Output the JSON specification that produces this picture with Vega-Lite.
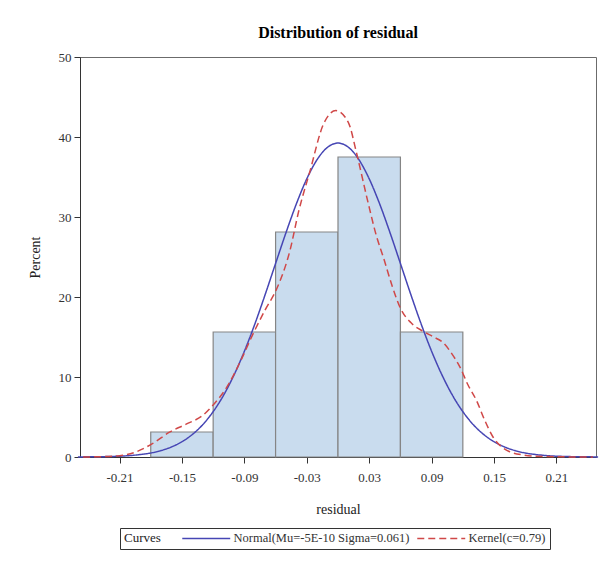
{
  "$schema": "https://vega.github.io/schema/vega-lite/v6.json",
  "width": 516,
  "height": 400,
  "autosize": {"type": "none"},
  "padding": {"left": 80, "top": 57, "right": 20, "bottom": 105},
  "background": "white",
  "title": {
    "text": "Distribution of residual",
    "font": "Liberation Serif",
    "fontSize": 16,
    "fontWeight": "bold",
    "color": "#000000",
    "anchor": "middle",
    "offset": 10
  },
  "datasets": {
    "bins": [
      {"start": -0.18, "end": -0.12, "pct": 3.125},
      {"start": -0.12, "end": -0.06, "pct": 15.625},
      {"start": -0.06, "end": 0.0, "pct": 28.125},
      {"start": 0.0, "end": 0.06, "pct": 37.5},
      {"start": 0.06, "end": 0.12, "pct": 15.625}
    ],
    "curves": [
      {"x": -0.25, "pct": 0.01, "curve": "Normal(Mu=-5E-10 Sigma=0.061)"},
      {"x": -0.24, "pct": 0.02, "curve": "Normal(Mu=-5E-10 Sigma=0.061)"},
      {"x": -0.23, "pct": 0.03, "curve": "Normal(Mu=-5E-10 Sigma=0.061)"},
      {"x": -0.22, "pct": 0.06, "curve": "Normal(Mu=-5E-10 Sigma=0.061)"},
      {"x": -0.21, "pct": 0.10, "curve": "Normal(Mu=-5E-10 Sigma=0.061)"},
      {"x": -0.20, "pct": 0.18, "curve": "Normal(Mu=-5E-10 Sigma=0.061)"},
      {"x": -0.19, "pct": 0.31, "curve": "Normal(Mu=-5E-10 Sigma=0.061)"},
      {"x": -0.18, "pct": 0.50, "curve": "Normal(Mu=-5E-10 Sigma=0.061)"},
      {"x": -0.17, "pct": 0.81, "curve": "Normal(Mu=-5E-10 Sigma=0.061)"},
      {"x": -0.16, "pct": 1.26, "curve": "Normal(Mu=-5E-10 Sigma=0.061)"},
      {"x": -0.15, "pct": 1.91, "curve": "Normal(Mu=-5E-10 Sigma=0.061)"},
      {"x": -0.14, "pct": 2.82, "curve": "Normal(Mu=-5E-10 Sigma=0.061)"},
      {"x": -0.13, "pct": 4.05, "curve": "Normal(Mu=-5E-10 Sigma=0.061)"},
      {"x": -0.12, "pct": 5.67, "curve": "Normal(Mu=-5E-10 Sigma=0.061)"},
      {"x": -0.11, "pct": 7.72, "curve": "Normal(Mu=-5E-10 Sigma=0.061)"},
      {"x": -0.10, "pct": 10.24, "curve": "Normal(Mu=-5E-10 Sigma=0.061)"},
      {"x": -0.09, "pct": 13.21, "curve": "Normal(Mu=-5E-10 Sigma=0.061)"},
      {"x": -0.08, "pct": 16.60, "curve": "Normal(Mu=-5E-10 Sigma=0.061)"},
      {"x": -0.07, "pct": 20.31, "curve": "Normal(Mu=-5E-10 Sigma=0.061)"},
      {"x": -0.06, "pct": 24.19, "curve": "Normal(Mu=-5E-10 Sigma=0.061)"},
      {"x": -0.05, "pct": 28.04, "curve": "Normal(Mu=-5E-10 Sigma=0.061)"},
      {"x": -0.04, "pct": 31.65, "curve": "Normal(Mu=-5E-10 Sigma=0.061)"},
      {"x": -0.03, "pct": 34.77, "curve": "Normal(Mu=-5E-10 Sigma=0.061)"},
      {"x": -0.02, "pct": 37.19, "curve": "Normal(Mu=-5E-10 Sigma=0.061)"},
      {"x": -0.01, "pct": 38.72, "curve": "Normal(Mu=-5E-10 Sigma=0.061)"},
      {"x": 0.0, "pct": 39.24, "curve": "Normal(Mu=-5E-10 Sigma=0.061)"},
      {"x": 0.01, "pct": 38.72, "curve": "Normal(Mu=-5E-10 Sigma=0.061)"},
      {"x": 0.02, "pct": 37.19, "curve": "Normal(Mu=-5E-10 Sigma=0.061)"},
      {"x": 0.03, "pct": 34.77, "curve": "Normal(Mu=-5E-10 Sigma=0.061)"},
      {"x": 0.04, "pct": 31.65, "curve": "Normal(Mu=-5E-10 Sigma=0.061)"},
      {"x": 0.05, "pct": 28.04, "curve": "Normal(Mu=-5E-10 Sigma=0.061)"},
      {"x": 0.06, "pct": 24.19, "curve": "Normal(Mu=-5E-10 Sigma=0.061)"},
      {"x": 0.07, "pct": 20.31, "curve": "Normal(Mu=-5E-10 Sigma=0.061)"},
      {"x": 0.08, "pct": 16.60, "curve": "Normal(Mu=-5E-10 Sigma=0.061)"},
      {"x": 0.09, "pct": 13.21, "curve": "Normal(Mu=-5E-10 Sigma=0.061)"},
      {"x": 0.10, "pct": 10.24, "curve": "Normal(Mu=-5E-10 Sigma=0.061)"},
      {"x": 0.11, "pct": 7.72, "curve": "Normal(Mu=-5E-10 Sigma=0.061)"},
      {"x": 0.12, "pct": 5.67, "curve": "Normal(Mu=-5E-10 Sigma=0.061)"},
      {"x": 0.13, "pct": 4.05, "curve": "Normal(Mu=-5E-10 Sigma=0.061)"},
      {"x": 0.14, "pct": 2.82, "curve": "Normal(Mu=-5E-10 Sigma=0.061)"},
      {"x": 0.15, "pct": 1.91, "curve": "Normal(Mu=-5E-10 Sigma=0.061)"},
      {"x": 0.16, "pct": 1.26, "curve": "Normal(Mu=-5E-10 Sigma=0.061)"},
      {"x": 0.17, "pct": 0.81, "curve": "Normal(Mu=-5E-10 Sigma=0.061)"},
      {"x": 0.18, "pct": 0.50, "curve": "Normal(Mu=-5E-10 Sigma=0.061)"},
      {"x": 0.19, "pct": 0.31, "curve": "Normal(Mu=-5E-10 Sigma=0.061)"},
      {"x": 0.20, "pct": 0.18, "curve": "Normal(Mu=-5E-10 Sigma=0.061)"},
      {"x": 0.21, "pct": 0.10, "curve": "Normal(Mu=-5E-10 Sigma=0.061)"},
      {"x": 0.22, "pct": 0.06, "curve": "Normal(Mu=-5E-10 Sigma=0.061)"},
      {"x": 0.23, "pct": 0.03, "curve": "Normal(Mu=-5E-10 Sigma=0.061)"},
      {"x": 0.24, "pct": 0.02, "curve": "Normal(Mu=-5E-10 Sigma=0.061)"},
      {"x": 0.25, "pct": 0.01, "curve": "Normal(Mu=-5E-10 Sigma=0.061)"},
      {"x": -0.245, "pct": 0.0, "curve": "Kernel(c=0.79)"},
      {"x": -0.23, "pct": 0.03, "curve": "Kernel(c=0.79)"},
      {"x": -0.21, "pct": 0.15, "curve": "Kernel(c=0.79)"},
      {"x": -0.195, "pct": 0.6, "curve": "Kernel(c=0.79)"},
      {"x": -0.178, "pct": 1.7, "curve": "Kernel(c=0.79)"},
      {"x": -0.162, "pct": 3.1, "curve": "Kernel(c=0.79)"},
      {"x": -0.146, "pct": 4.1, "curve": "Kernel(c=0.79)"},
      {"x": -0.13, "pct": 5.2, "curve": "Kernel(c=0.79)"},
      {"x": -0.12, "pct": 6.5, "curve": "Kernel(c=0.79)"},
      {"x": -0.107, "pct": 8.7, "curve": "Kernel(c=0.79)"},
      {"x": -0.094, "pct": 11.9, "curve": "Kernel(c=0.79)"},
      {"x": -0.082, "pct": 15.3, "curve": "Kernel(c=0.79)"},
      {"x": -0.07, "pct": 18.4, "curve": "Kernel(c=0.79)"},
      {"x": -0.059, "pct": 21.0, "curve": "Kernel(c=0.79)"},
      {"x": -0.046, "pct": 25.9, "curve": "Kernel(c=0.79)"},
      {"x": -0.038, "pct": 30.6, "curve": "Kernel(c=0.79)"},
      {"x": -0.027, "pct": 35.7, "curve": "Kernel(c=0.79)"},
      {"x": -0.014, "pct": 41.6, "curve": "Kernel(c=0.79)"},
      {"x": -0.002, "pct": 43.3, "curve": "Kernel(c=0.79)"},
      {"x": 0.01, "pct": 41.8, "curve": "Kernel(c=0.79)"},
      {"x": 0.018, "pct": 37.9, "curve": "Kernel(c=0.79)"},
      {"x": 0.028, "pct": 32.3, "curve": "Kernel(c=0.79)"},
      {"x": 0.037, "pct": 27.6, "curve": "Kernel(c=0.79)"},
      {"x": 0.044, "pct": 24.8, "curve": "Kernel(c=0.79)"},
      {"x": 0.052, "pct": 21.4, "curve": "Kernel(c=0.79)"},
      {"x": 0.06, "pct": 18.6, "curve": "Kernel(c=0.79)"},
      {"x": 0.07, "pct": 16.8, "curve": "Kernel(c=0.79)"},
      {"x": 0.082, "pct": 15.7, "curve": "Kernel(c=0.79)"},
      {"x": 0.092, "pct": 15.0, "curve": "Kernel(c=0.79)"},
      {"x": 0.101, "pct": 14.3, "curve": "Kernel(c=0.79)"},
      {"x": 0.11, "pct": 12.8, "curve": "Kernel(c=0.79)"},
      {"x": 0.117, "pct": 11.3, "curve": "Kernel(c=0.79)"},
      {"x": 0.125, "pct": 9.0, "curve": "Kernel(c=0.79)"},
      {"x": 0.133, "pct": 7.1, "curve": "Kernel(c=0.79)"},
      {"x": 0.141, "pct": 4.6, "curve": "Kernel(c=0.79)"},
      {"x": 0.149, "pct": 2.5, "curve": "Kernel(c=0.79)"},
      {"x": 0.157, "pct": 1.3, "curve": "Kernel(c=0.79)"},
      {"x": 0.165, "pct": 0.66, "curve": "Kernel(c=0.79)"},
      {"x": 0.178, "pct": 0.25, "curve": "Kernel(c=0.79)"},
      {"x": 0.19, "pct": 0.1, "curve": "Kernel(c=0.79)"},
      {"x": 0.215, "pct": 0.02, "curve": "Kernel(c=0.79)"},
      {"x": 0.245, "pct": 0.0, "curve": "Kernel(c=0.79)"}
    ]
  },
  "config": {
    "font": "Liberation Serif",
    "view": {"stroke": "#6b6b6b", "strokeWidth": 1},
    "axis": {
      "labelFont": "Liberation Serif",
      "titleFont": "Liberation Serif",
      "labelColor": "#333333",
      "titleColor": "#222222",
      "domainColor": "#333333",
      "tickColor": "#333333",
      "labelFontSize": 13,
      "titleFontSize": 14,
      "titleFontWeight": "normal",
      "grid": false,
      "tickSize": 6
    }
  },
  "layer": [
    {
      "data": {"name": "bins"},
      "mark": {"type": "bar", "fill": "#c9dcee", "stroke": "#858585", "strokeWidth": 1.2},
      "encoding": {
        "x": {
          "field": "start",
          "type": "quantitative",
          "scale": {"domain": [-0.248, 0.248], "nice": false, "zero": false},
          "axis": {
            "title": "residual",
            "values": [-0.21, -0.15, -0.09, -0.03, 0.03, 0.09, 0.15, 0.21],
            "format": ".2f",
            "labelExpr": "replace(datum.label, '\u2212', '-')",
            "labelPadding": 8,
            "titlePadding": 18
          }
        },
        "x2": {"field": "end"},
        "y": {
          "field": "pct",
          "type": "quantitative",
          "scale": {"domain": [0, 50], "nice": false},
          "axis": {
            "title": "Percent",
            "values": [0, 10, 20, 30, 40, 50],
            "labelPadding": 3,
            "titlePadding": 16
          }
        },
        "y2": {"datum": 0}
      }
    },
    {
      "data": {"name": "curves"},
      "mark": {"type": "line", "interpolate": "monotone", "strokeWidth": 1.5},
      "encoding": {
        "x": {"field": "x", "type": "quantitative"},
        "y": {"field": "pct", "type": "quantitative"},
        "color": {
          "field": "curve",
          "type": "nominal",
          "sort": null,
          "scale": {
            "domain": ["Normal(Mu=-5E-10 Sigma=0.061)", "Kernel(c=0.79)"],
            "range": ["#4646b4", "#d04848"]
          },
          "legend": {
            "title": "Curves",
            "orient": "none",
            "legendX": 40,
            "legendY": 471,
            "direction": "horizontal",
            "titleOrient": "left",
            "titleAnchor": "middle",
            "titleBaseline": "middle",
            "titleFont": "Liberation Serif",
            "titleFontSize": 13,
            "titleFontWeight": "normal",
            "titleColor": "#222222",
            "titlePadding": 20,
            "labelFont": "Liberation Serif",
            "labelFontSize": 12.5,
            "labelColor": "#333333",
            "labelLimit": 0,
            "symbolType": "M-5,0H5",
            "symbolSize": 92,
            "symbolStrokeWidth": 1.5,
            "symbolOffset": 19,
            "labelOffset": 21,
            "columnPadding": 4,
            "strokeColor": "#333333",
            "padding": 4
          }
        },
        "strokeDash": {
          "field": "curve",
          "type": "nominal",
          "sort": null,
          "scale": {
            "domain": ["Normal(Mu=-5E-10 Sigma=0.061)", "Kernel(c=0.79)"],
            "range": [[1, 0], [7, 4]]
          },
          "legend": {
            "title": "Curves"
          }
        }
      }
    }
  ]
}
